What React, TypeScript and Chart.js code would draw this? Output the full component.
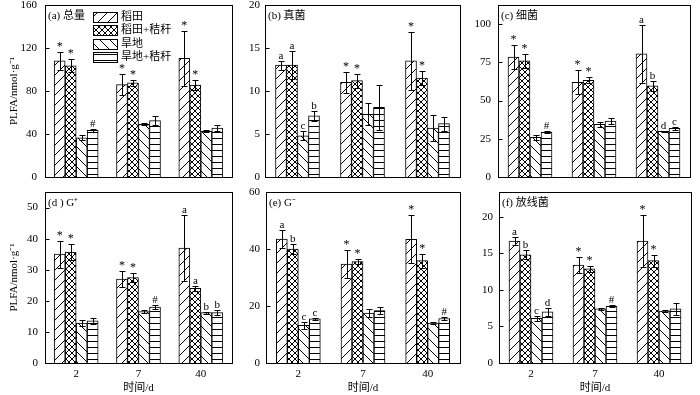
import React, { useEffect, useRef } from 'react';
import { Chart, registerables } from 'chart.js';

Chart.register(...registerables);

const FONT = '"Liberation Serif", "Noto Sans CJK SC", serif';
Chart.defaults.color = '#000';
Chart.defaults.font.family = FONT;

// ---------- data ----------
const days = ['2', '7', '40'];
const treatments = ['稻田', '稻田+秸秆', '旱地', '旱地+秸秆'];

// (a) 总量
const totalMeans = [[108, 86, 110.5], [103.5, 87.5, 85.5], [36.5, 49, 42.5], [43.3, 52.5, 45.5]];
const totalErrors = [[8, 10, 25.5], [6, 2.5, 4.5], [2.2, 0.8, 1], [1.2, 4.5, 2.5]];
const totalMarks = [['*', '*', '*'], ['*', '*', '*'], ['', '', ''], ['#', '', '']];

// (b) 真菌
const fungiMeans = [[13, 11, 13.5], [13, 11.2, 11.5], [4.8, 7.3, 5.7], [7.1, 8.1, 6.2]];
const fungiErrors = [[0.5, 1.2, 3.4], [1.6, 0.8, 0.8], [0.55, 1.3, 1.5], [0.6, 2.6, 0.8]];
const fungiMarks = [['a', '*', '*'], ['a', '*', '*'], ['c', '', ''], ['b', '', '']];

// (c) 细菌
const bacteriaMeans = [[78.5, 62, 80.5], [76, 63.2, 59.7], [26, 34.5, 29.8], [29.3, 36.5, 31.8]];
const bacteriaErrors = [[7.8, 8, 19], [4.5, 2, 3.2], [1.5, 1.5, 0.4], [0.8, 2, 1]];
const bacteriaMarks = [['*', '*', 'a'], ['*', '*', 'b'], ['', '', 'd'], ['#', '', 'c']];

// (d) G+
const gPosMeans = [[35, 27, 37], [35.7, 27.5, 24], [12.8, 16.5, 16.2], [13.6, 18, 16.2]];
const gPosErrors = [[4.4, 2.7, 10.5], [2.7, 1.5, 0.8], [0.9, 0.4, 0.3], [1, 0.7, 0.9]];
const gPosMarks = [['*', '*', 'a'], ['*', '*', 'a'], ['', '', 'b'], ['', '#', 'b']];

// (e) G-
const gNegMeans = [[43.5, 34.7, 43.4], [40, 35.6, 35.9], [13.2, 17.5, 14], [15.5, 18.4, 15.6]];
const gNegErrors = [[3.2, 5, 8.4], [1.8, 1, 2.4], [1.3, 1.3, 0.3], [0.4, 1.3, 0.4]];
const gNegMarks = [['a', '*', '*'], ['b', '*', '*'], ['c', '', ''], ['c', '', '#']];

// (f) 放线菌
const actinoMeans = [[16.7, 13.4, 16.7], [14.8, 12.9, 14], [6.1, 7.4, 7.1], [7, 7.75, 7.4]];
const actinoErrors = [[0.6, 1.1, 3.6], [0.6, 0.4, 0.8], [0.4, 0.15, 0.15], [0.5, 0.15, 0.8]];
const actinoMarks = [['a', '*', '*'], ['b', '*', '*'], ['c', '', ''], ['d', '#', '']];

const panelTitles = ['(a) 总量', '(b) 真菌', '(c) 细菌', '(d ) G⁺', '(e) G⁻', '(f) 放线菌'];
const yMaxes = [160, 20, 112.5, 55, 60, 23.4];
const ySteps = [40, 5, 25, 10, 20, 5];
const yTitle = 'PLFA/nmol·g⁻¹';
const xTitle = '时间/d';

// ---------- layout ----------
type Box = { cx: number; cy: number; cw: number; ch: number; padTop: number; padRight: number; yWidth: number; xHeight: number; tickPad: number };
const boxes: Box[] = [
  { cx: 0, cy: 0, cw: 240, ch: 185, padTop: 5, padRight: 8, yWidth: 45, xHeight: 8, tickPad: 8 },
  { cx: 235, cy: 0, cw: 230, ch: 185, padTop: 5, padRight: 5, yWidth: 30, xHeight: 8, tickPad: 5 },
  { cx: 465, cy: 0, cw: 235, ch: 185, padTop: 5, padRight: 10, yWidth: 33, xHeight: 8, tickPad: 7 },
  { cx: 0, cy: 185, cw: 240, ch: 210, padTop: 7, padRight: 8, yWidth: 45, xHeight: 32, tickPad: 7 },
  { cx: 235, cy: 185, cw: 230, ch: 210, padTop: 7, padRight: 5, yWidth: 31, xHeight: 32, tickPad: 6 },
  { cx: 465, cy: 185, cw: 235, ch: 210, padTop: 7, padRight: 9, yWidth: 34, xHeight: 32, tickPad: 6 },
];

const panelData = [
  { means: totalMeans, errors: totalErrors, marks: totalMarks },
  { means: fungiMeans, errors: fungiErrors, marks: fungiMarks },
  { means: bacteriaMeans, errors: bacteriaErrors, marks: bacteriaMarks },
  { means: gPosMeans, errors: gPosErrors, marks: gPosMarks },
  { means: gNegMeans, errors: gNegErrors, marks: gNegMarks },
  { means: actinoMeans, errors: actinoErrors, marks: actinoMarks },
];

const patternKinds = ['fwd', 'cross', 'back', 'horiz'];

function makePattern(ctx: CanvasRenderingContext2D, kind: string): CanvasPattern {
  const size = kind === 'cross' ? 6 : kind === 'horiz' ? 6 : 10;
  const c = document.createElement('canvas');
  c.width = size;
  c.height = size;
  const g = c.getContext('2d')!;
  g.fillStyle = '#fff';
  g.fillRect(0, 0, size, size);
  g.strokeStyle = '#000';
  g.lineWidth = 1;
  g.beginPath();
  if (kind === 'fwd' || kind === 'cross') {
    for (const k of [-size, 0, size]) {
      g.moveTo(k, size);
      g.lineTo(k + size, 0);
    }
  }
  if (kind === 'back' || kind === 'cross') {
    for (const k of [-size, 0, size]) {
      g.moveTo(k, 0);
      g.lineTo(k + size, size);
    }
  }
  if (kind === 'horiz') {
    g.moveTo(0, 0.5);
    g.lineTo(size, 0.5);
  }
  g.stroke();
  return ctx.createPattern(c, 'repeat')!;
}

function Panel({ idx }: { idx: number }) {
  const ref = useRef<HTMLCanvasElement>(null);
  const box = boxes[idx];
  useEffect(() => {
    const canvas = ref.current!;
    const ctx0 = canvas.getContext('2d')!;
    const patterns = patternKinds.map((k) => makePattern(ctx0, k));
    const { means, errors, marks } = panelData[idx];
    const bottomRow = idx >= 3;
    const leftCol = idx % 3 === 0;
    const font = { family: FONT, size: 11 };

    const overlay = {
      id: 'overlay' + idx,
      afterDatasetsDraw(chart: any) {
        const ctx = chart.ctx as CanvasRenderingContext2D;
        const y = chart.scales.y;
        ctx.save();
        ctx.strokeStyle = '#000';
        ctx.fillStyle = '#000';
        ctx.lineWidth = 1;
        ctx.textAlign = 'center';
        ctx.textBaseline = 'alphabetic';
        means.forEach((series, i) => {
          const meta = chart.getDatasetMeta(i);
          series.forEach((m, j) => {
            const bar = meta.data[j];
            const x = Math.round(bar.x) + 0.5;
            const e = errors[i][j];
            const yTop = Math.round(y.getPixelForValue(m + e)) + 0.5;
            const yBot = Math.round(y.getPixelForValue(m - e)) + 0.5;
            ctx.beginPath();
            ctx.moveTo(x, yTop);
            ctx.lineTo(x, yBot);
            ctx.moveTo(x - 3, yTop);
            ctx.lineTo(x + 3, yTop);
            ctx.moveTo(x - 3, yBot);
            ctx.lineTo(x + 3, yBot);
            ctx.stroke();
            const mk = marks[i][j];
            if (mk) {
              ctx.font = mk === '*' ? `12px ${FONT}` : `11px ${FONT}`;
              ctx.fillText(mk, bar.x, yTop - 3);
            }
          });
        });
        ctx.restore();
      },
      afterDraw(chart: any) {
        const ctx = chart.ctx as CanvasRenderingContext2D;
        const a = chart.chartArea;
        const y = chart.scales.y;
        ctx.save();
        ctx.strokeStyle = '#000';
        ctx.lineWidth = 1;
        const L = Math.round(a.left) + 0.5;
        const T = Math.round(a.top) + 0.5;
        const R = Math.round(a.right) + 0.5;
        const B = Math.round(a.bottom) + 0.5;
        ctx.strokeRect(L, T, R - L, B - T);
        // inward y ticks
        ctx.beginPath();
        y.ticks.forEach((t: any) => {
          const py = Math.round(y.getPixelForValue(t.value)) + 0.5;
          if (py > T + 1 && py < B - 1) {
            ctx.moveTo(L, py);
            ctx.lineTo(L + 4, py);
          }
        });
        ctx.stroke();
        // panel title
        ctx.fillStyle = '#000';
        ctx.font = `11px ${FONT}`;
        ctx.textAlign = 'left';
        ctx.textBaseline = 'middle';
        ctx.fillText(panelTitles[idx], a.left + 3, a.top + 11);
        // legend (panel a only)
        if (idx === 0) {
          treatments.forEach((t, i) => {
            const bx = Math.round(a.left + 48);
            const by = Math.round(a.top + 6.5 + i * 13.6);
            ctx.fillStyle = patterns[i];
            ctx.fillRect(bx, by, 24, 10);
            ctx.strokeRect(bx + 0.5, by + 0.5, 24, 10);
            ctx.fillStyle = '#000';
            ctx.fillText(t, bx + 28, by + 5.5);
          });
        }
        ctx.restore();
      },
    };

    const chart = new Chart(canvas, {
      type: 'bar',
      data: {
        labels: days,
        datasets: treatments.map((t, i) => ({
          label: t,
          data: means[i],
          backgroundColor: patterns[i] as any,
          borderColor: '#000',
          borderWidth: 1,
          barThickness: 11,
        })),
      },
      options: {
        animation: false,
        responsive: false,
        maintainAspectRatio: false,
        devicePixelRatio: 1,
        events: [],
        layout: { padding: { left: 0, top: box.padTop, right: box.padRight, bottom: 0 } },
        plugins: { legend: { display: false }, tooltip: { enabled: false } },
        scales: {
          x: {
            grid: { display: false, drawTicks: false },
            border: { display: false },
            ticks: { display: bottomRow, padding: 5, font, color: '#000' },
            title: { display: bottomRow, text: xTitle, font, color: '#000', padding: { top: 0, bottom: 0 } },
            afterFit: (s: any) => {
              s.height = box.xHeight;
              s.paddingLeft = 0;
              s.paddingRight = 0;
            },
          },
          y: {
            min: 0,
            max: yMaxes[idx],
            grid: { display: false, drawTicks: false },
            border: { display: false },
            ticks: { stepSize: ySteps[idx], includeBounds: false, padding: box.tickPad, font, color: '#000' },
            title: { display: leftCol, text: yTitle, font, color: '#000', padding: { top: 7.4, bottom: 0 } },
            afterFit: (s: any) => {
              s.width = box.yWidth;
              s.paddingTop = 0;
              s.paddingBottom = 0;
            },
          },
        },
      } as any,
      plugins: [overlay],
    });
    return () => chart.destroy();
  }, [idx]);
  return (
    <canvas
      ref={ref}
      width={box.cw}
      height={box.ch}
      style={{ position: 'absolute', left: box.cx, top: box.cy, width: box.cw, height: box.ch }}
    />
  );
}

export default function App() {
  return (
    <div style={{ position: 'absolute', left: 0, top: 0, width: 700, height: 395, background: '#fff', overflow: 'hidden' }}>
      {[0, 1, 2, 3, 4, 5].map((i) => (
        <Panel key={i} idx={i} />
      ))}
    </div>
  );
}
